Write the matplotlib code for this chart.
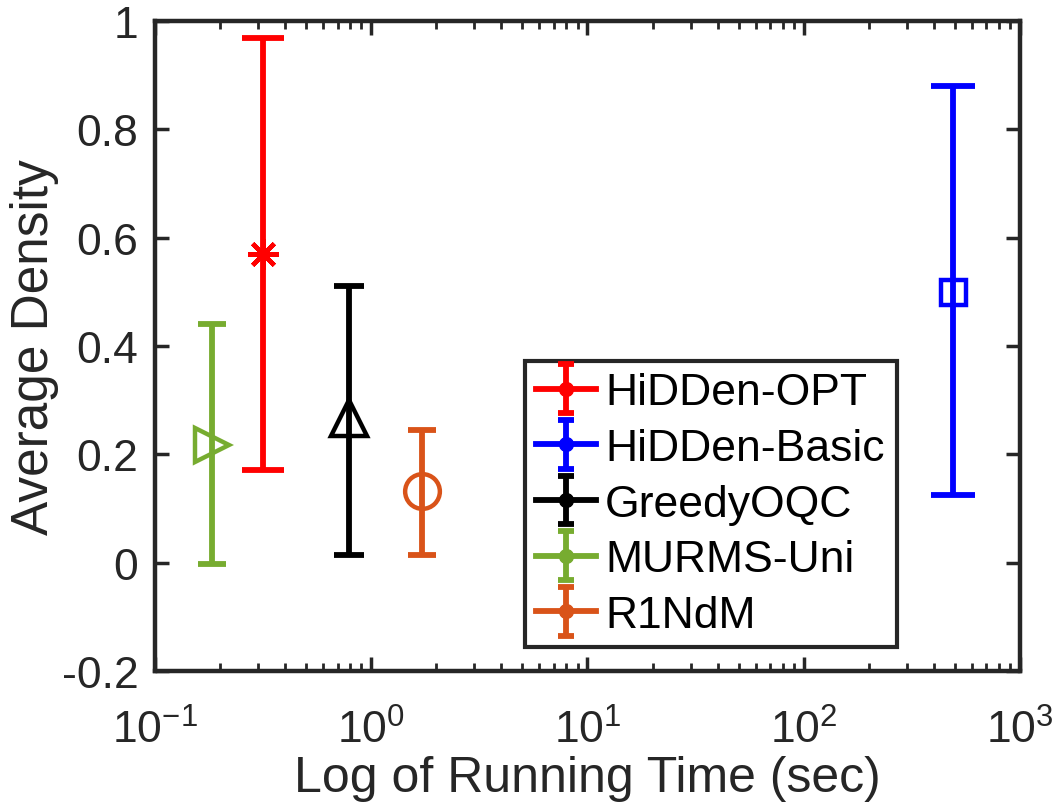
import numpy as np
import matplotlib
matplotlib.use("Agg")
import matplotlib.pyplot as plt
from matplotlib.ticker import FixedLocator, FuncFormatter, LogLocator, NullFormatter
from matplotlib.legend_handler import HandlerErrorbar
from matplotlib.container import ErrorbarContainer

plt.rcParams['font.family'] = ['Liberation Sans', 'DejaVu Sans']
plt.rcParams['mathtext.fontset'] = 'custom'
plt.rcParams['mathtext.rm'] = 'Liberation Sans'
plt.rcParams['mathtext.it'] = 'Liberation Sans'

# data
methods = ["HiDDen-OPT", "HiDDen-Basic", "GreedyOQC", "MURMS-Uni", "R1NdM"]
run_time = [0.316, 490.0, 0.79, 0.184, 1.72]
density = [0.57, 0.50, 0.267, 0.217, 0.133]
low = [0.171, 0.125, 0.015, -0.003, 0.015]
high = [0.968, 0.88, 0.51, 0.44, 0.245]

colors = ["#ff0000", "#0000ff", "#000000", "#77ac30", "#d95319"]
markers = [(8, 2, 0), "s", "^", ">", "o"]
msizes = [22, 18, 26, 24, 25]
caps = [15, 16, 10.5, 10, 10]

fig = plt.figure(figsize=(10.58, 8.03), dpi=100)
ax = fig.add_axes([0.1465, 0.163, 0.8175, 0.8097])

for i in range(len(methods)):
    yerr = [[density[i] - low[i]], [high[i] - density[i]]]
    ax.errorbar([run_time[i]], [density[i]], yerr=yerr, fmt="none",
                ecolor=colors[i], elinewidth=4.2, capsize=caps[i], capthick=4.2)
    ax.plot([run_time[i]], [density[i]], linestyle="none", marker=markers[i],
            markersize=msizes[i], markerfacecolor="none" if i != 0 else colors[i],
            markeredgecolor=colors[i], markeredgewidth=3.2)

# legend proxies (matlab style: line + dot + vertical bar)
handles = []
for i in range(len(methods)):
    h = ax.errorbar([np.nan], [np.nan], yerr=[[0.1], [0.1]], fmt="-o",
                    color=colors[i], linewidth=4.2, markersize=10,
                    capsize=6, capthick=4.2, elinewidth=4.2)
    handles.append(h)

ax.set_xscale("log")
ax.set_xlim(0.1, 1000)
ax.set_ylim(-0.2, 1.0)
ax.yaxis.set_major_locator(FixedLocator([-0.2, 0, 0.2, 0.4, 0.6, 0.8, 1.0]))
ax.yaxis.set_major_formatter(FuncFormatter(lambda v, p: "%g" % round(v, 2)))
ax.xaxis.set_major_locator(LogLocator(base=10, numticks=10))
ax.xaxis.set_minor_locator(LogLocator(base=10, subs=np.arange(2, 10), numticks=20))
ax.xaxis.set_minor_formatter(NullFormatter())
ax.xaxis.set_major_formatter(FuncFormatter(lambda v, p: r"$\mathregular{10^{%d}}$" % round(np.log10(v))))

ax.tick_params(which="both", direction="in", top=True, right=True,
               color="#262626", labelcolor="#262626")
ax.tick_params(which="major", length=10, width=2.5, labelsize=32)
ax.tick_params(which="minor", length=6, width=2)
ax.tick_params(axis="y", pad=12)
ax.tick_params(axis="x", pad=27)
for s in ax.spines.values():
    s.set_linewidth(3.2)
    s.set_color("#262626")

ax.set_xlabel("Log of Running Time (sec)", fontsize=36, color="#262626", labelpad=2.5)
ax.set_ylabel("Average Density", fontsize=37, color="#262626", labelpad=2)

leg = ax.legend(handles, methods, loc="lower left", bbox_to_anchor=(0.428, 0.037, 0.430, 0.435),
                mode="expand", fontsize=32, frameon=True, fancybox=False, framealpha=1,
                edgecolor="#262626", handlelength=1.35, handletextpad=0.2,
                borderpad=0.25, labelspacing=0.33, borderaxespad=0,
                handler_map={ErrorbarContainer: HandlerErrorbar(yerr_size=0.55)})
leg.get_frame().set_linewidth(3)

fig.savefig("out.png", dpi=100)
